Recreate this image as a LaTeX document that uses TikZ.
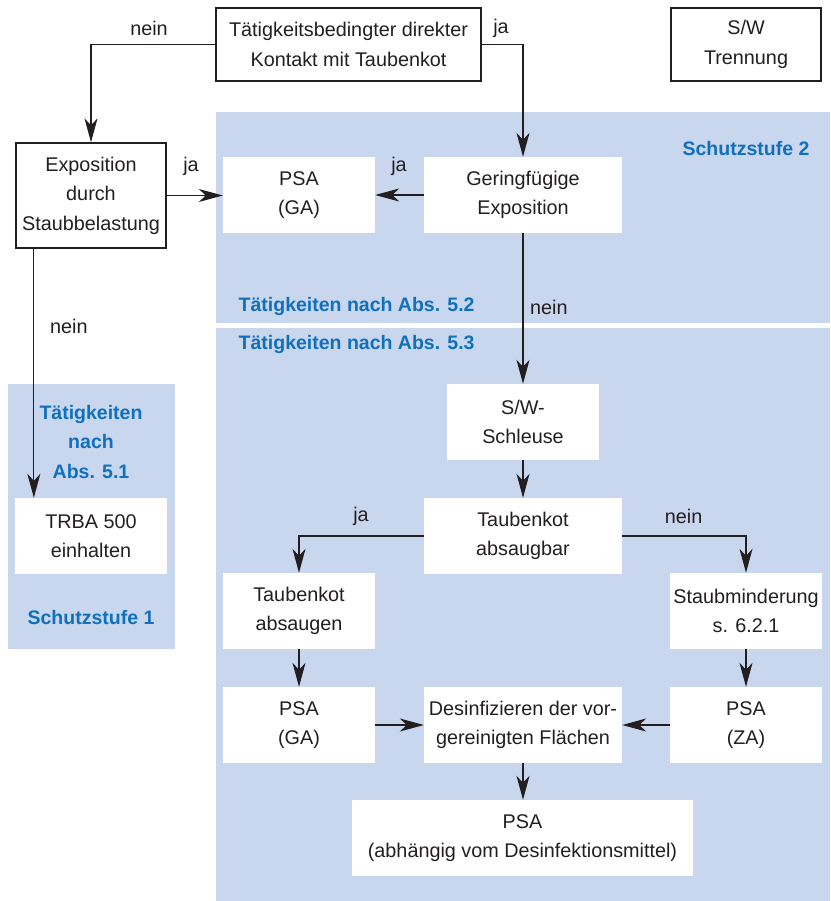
\documentclass[tikz,border=0pt]{standalone}
\usepackage{fontspec}
\setmainfont{Liberation Sans}
\usetikzlibrary{arrows.meta,calc}
\definecolor{bgblue}{RGB}{200,214,238}
\definecolor{ttlblue}{RGB}{16,112,188}
\definecolor{ink}{RGB}{35,31,32}
\begin{document}
\begin{tikzpicture}[x=1pt,y=-1pt,
  every node/.style={font=\fontsize{19.8}{29.5}\selectfont, text=ink, inner sep=0pt, align=center},
  box/.style={draw=ink, line width=1.3pt, fill=white, minimum height=73pt},
  wbox/.style={fill=white, minimum height=76pt},
  ttl/.style={font=\fontsize{19.5}{29.5}\selectfont\bfseries, text=ttlblue},
  arr/.style={draw=ink, line width=1.15pt, -{Stealth[length=24pt,width=13pt,inset=7pt]}}]
\useasboundingbox (0,0) rectangle (830,901);
% background regions
\fill[bgblue] (216,112) rectangle (830,323);
\fill[bgblue] (216,328) rectangle (830,901);
\fill[bgblue] (8,384) rectangle (175,649);
% boxes
\node[box, minimum width=265pt] (top) at (348.5,44.5) {Tätigkeitsbedingter direkter\\Kontakt mit Taubenkot};
\node[box, minimum width=150pt] (sw) at (746,44.5) {S/W\\Trennung};
\node[box, minimum width=150pt, minimum height=105pt] (expo) at (91,195.5) {Exposition\\durch\\Staubbelastung};
\node[wbox, minimum width=152pt] (psa1) at (299,195) {PSA\\(GA)};
\node[wbox, minimum width=198pt] (gering) at (523,195) {Geringfügige\\Exposition};
\node[wbox, minimum width=152pt] (schleuse) at (523,422) {S/W-\\Schleuse};
\node[wbox, minimum width=152pt] (trba) at (91,536) {TRBA 500\\einhalten};
\node[wbox, minimum width=198pt] (absaugbar) at (523,536) {Taubenkot\\absaugbar};
\node[wbox, minimum width=152pt] (absaugen) at (299,611) {Taubenkot\\absaugen};
\node[wbox, minimum width=152pt] (staub) at (746,611) {Staubminderung\\s. 6.2.1};
\node[wbox, minimum width=152pt] (psa2) at (299,725) {PSA\\(GA)};
\node[wbox, minimum width=198pt] (desinf) at (523,725) {Desinfizieren der vor-\\gereinigten Flächen};
\node[wbox, minimum width=152pt] (psaza) at (746,725) {PSA\\(ZA)};
\node[wbox, minimum width=341pt] (psaf) at (522.5,838) {PSA\\(abhängig vom Desinfektionsmittel)};
% connectors
\draw[arr] (top.west) -| (expo.north);
\draw[arr] (top.east) -| (gering.north);
\draw[arr] (expo.east) -- (expo.east -| psa1.west);
\draw[arr] (gering.west) -- (psa1.east);
\draw[arr] (gering.south) -- (schleuse.north);
\draw[arr] ([xshift=18.5pt]expo.south west) -- ([xshift=18.5pt]expo.south west |- trba.north);
\draw[arr] (schleuse.south) -- (absaugbar.north);
\draw[arr] (absaugbar.west) -| (absaugen.north);
\draw[arr] (absaugbar.east) -| (staub.north);
\draw[arr] (absaugen.south) -- (psa2.north);
\draw[arr] (staub.south) -- (psaza.north);
\draw[arr] (psa2.east) -- (desinf.west);
\draw[arr] (psaza.west) -- (desinf.east);
\draw[arr] (desinf.south) -- (desinf.south |- psaf.north);
% labels
\node (l1) at (149,28) {nein};
\node (l2) at (501,28) {ja};
\node (l3) at (191,166) {ja};
\node (l4) at (399,166) {ja};
\node[ttl] (t2) at (746,149) {Schutzstufe 2};
\node[ttl, anchor=west] (t52) at (238.5,307) {Tätigkeiten nach Abs. 5.2};
\node[anchor=west] (l5) at (530,307) {nein};
\node[anchor=west] (l6) at (50,326) {nein};
\node[ttl, anchor=west] (t53) at (238.5,344) {Tätigkeiten nach Abs. 5.3};
\node[ttl] (t51) at (91,442) {Tätigkeiten\\nach\\Abs. 5.1};
\node[ttl] (t1) at (91,618) {Schutzstufe 1};
\node (l7) at (361,516) {ja};
\node (l8) at (683.6,516) {nein};
\end{tikzpicture}
\end{document}
